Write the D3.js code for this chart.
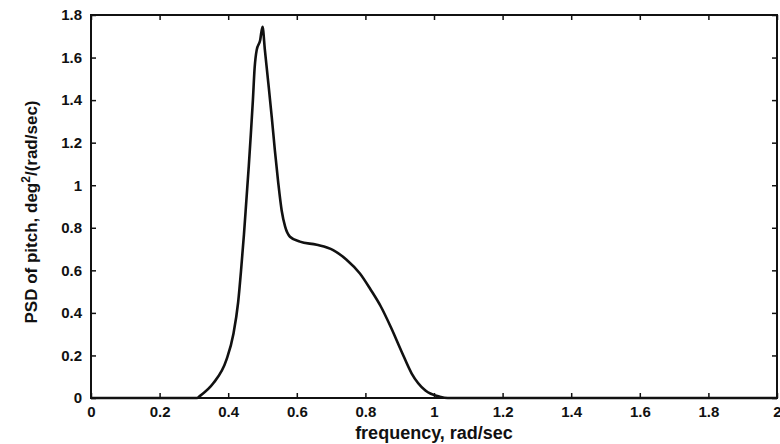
<!DOCTYPE html>
<html><head><meta charset="utf-8">
<script src="https://cdn.jsdelivr.net/npm/d3@7"></script>
<style>body{margin:0;background:#fff}svg{display:block}</style>
</head><body><svg id="c" width="780" height="444"></svg>
<script>
const freq = [0, 0.1, 0.2, 0.25, 0.309, 0.318, 0.357, 0.395, 0.415, 0.429, 0.438, 0.446, 0.453, 0.460, 0.466, 0.472, 0.477, 0.483, 0.493, 0.5, 0.507, 0.517, 0.527, 0.536, 0.546, 0.556, 0.566, 0.58, 0.609, 0.658, 0.706, 0.745, 0.784, 0.815, 0.845, 0.875, 0.905, 0.935, 0.975, 1.017, 1.04, 1.2, 1.5, 2.0];
const psd  = [0, 0, 0, 0, 0, 0.01, 0.07, 0.18, 0.30, 0.45, 0.61, 0.77, 0.93, 1.09, 1.24, 1.40, 1.55, 1.635, 1.68, 1.745, 1.635, 1.48, 1.32, 1.165, 1.01, 0.88, 0.805, 0.758, 0.735, 0.72, 0.695, 0.65, 0.585, 0.51, 0.43, 0.33, 0.22, 0.115, 0.035, 0.006, 0, 0, 0, 0];
const xTicks = [0, 0.2, 0.4, 0.6, 0.8, 1, 1.2, 1.4, 1.6, 1.8, 2];
const yTicks = [0, 0.2, 0.4, 0.6, 0.8, 1, 1.2, 1.4, 1.6, 1.8];
const xLabel = "frequency, rad/sec";

const L = 91, R = 777, T = 15, B = 398;
const svg = d3.select("#c");
const x = d3.scaleLinear().domain([0, 2]).range([L, R]);
const y = d3.scaleLinear().domain([0, 1.8]).range([B, T]);
const font = "'Liberation Sans', Arial, sans-serif";

svg.append("rect").attr("x", L).attr("y", T).attr("width", R - L).attr("height", B - T)
  .attr("fill", "none").attr("stroke", "#111").attr("stroke-width", 2);

const fmt = d => d3.format("")(d);
const gx = svg.append("g").attr("transform", `translate(0,${B})`)
  .call(d3.axisBottom(x).tickValues(xTicks).tickFormat(fmt).tickSizeInner(-5).tickSizeOuter(0).tickPadding(8));
gx.select(".domain").remove();
svg.append("g").attr("transform", `translate(0,${T})`)
  .call(d3.axisTop(x).tickValues(xTicks).tickFormat("").tickSizeInner(-5).tickSizeOuter(0))
  .select(".domain").remove();
const gy = svg.append("g").attr("transform", `translate(${L},0)`)
  .call(d3.axisLeft(y).tickValues(yTicks).tickFormat(fmt).tickSizeInner(-5).tickSizeOuter(0).tickPadding(9));
gy.select(".domain").remove();
svg.append("g").attr("transform", `translate(${R},0)`)
  .call(d3.axisRight(y).tickValues(yTicks).tickFormat("").tickSizeInner(-5).tickSizeOuter(0))
  .select(".domain").remove();

svg.selectAll(".tick line").attr("stroke", "#111").attr("stroke-width", 1.5);
svg.selectAll(".tick text").attr("fill", "#111").style("font-family", font)
  .style("font-weight", "bold").style("font-size", "15px");

svg.append("path")
  .datum(freq.map((f, i) => [f, psd[i]]))
  .attr("fill", "none").attr("stroke", "#111").attr("stroke-width", 2.6)
  .attr("stroke-linejoin", "round")
  .attr("d", d3.line().x(d => x(d[0])).y(d => y(d[1])).curve(d3.curveMonotoneX));

svg.append("text").attr("x", 434).attr("y", 439).attr("text-anchor", "middle")
  .style("font-family", font).style("font-weight", "bold").style("font-size", "18px")
  .attr("fill", "#111").text(xLabel);

const yl = svg.append("text").attr("transform", "translate(37,212) rotate(-90)")
  .attr("text-anchor", "middle").style("font-family", font).style("font-weight", "bold")
  .style("font-size", "17px").attr("fill", "#111");
yl.append("tspan").text("PSD of pitch, deg");
yl.append("tspan").attr("dy", -7).style("font-size", "12px").text("2");
yl.append("tspan").attr("dy", 7).text("/(rad/sec)");
</script></body></html>
